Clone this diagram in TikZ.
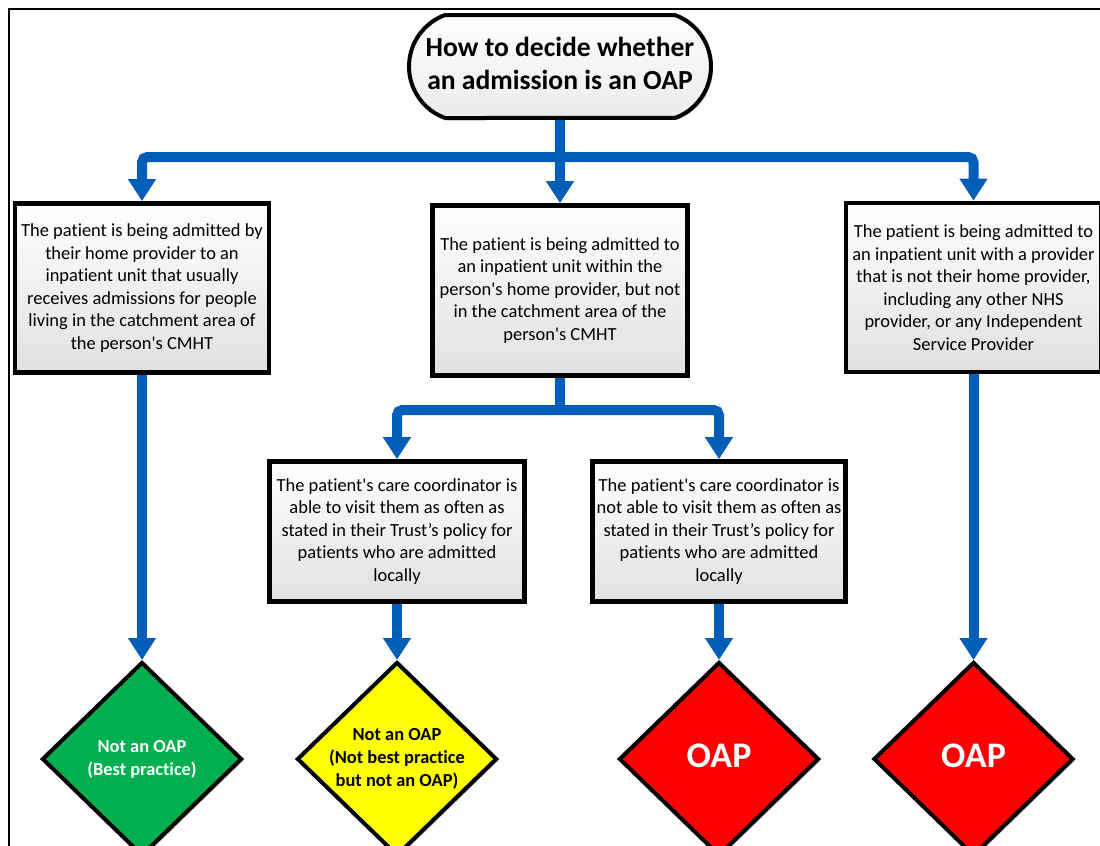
\documentclass[tikz,border=0pt]{standalone}
\usepackage{fontspec}
\setmainfont{Carlito}[Ligatures={TeXOff,NoCommon}]
\usetikzlibrary{arrows.meta,shapes.geometric,shapes.misc,shadows}
\definecolor{flowblue}{RGB}{0,94,184}
\definecolor{okgreen}{RGB}{0,176,80}
\definecolor{midyellow}{RGB}{255,255,0}
\definecolor{oapred}{RGB}{255,0,0}
\newcommand\zerow[1]{\makebox[0pt]{\begin{tabular}{@{}c@{}}#1\end{tabular}}}
\begin{document}
\begin{tikzpicture}[x=0.75pt,y=-0.75pt,
  flow/.style={draw=flowblue, line width=7.5pt, rounded corners=4pt, -{Triangle[width=20pt,length=16.5pt]}},
  trunk/.style={draw=flowblue, line width=7.5pt},
  softshadow/.style={drop shadow={shadow xshift=1.5pt, shadow yshift=-1.5pt, opacity=0.25, fill=black}},
  infobox/.style={draw=black, line width=3.5pt, top color=white, bottom color=black!12, align=center,
    text=black, inner sep=0pt, font=\fontsize{13.84pt}{16.9pt}\selectfont, softshadow},
  titlebox/.style={rounded rectangle, rounded rectangle arc length=140, draw=black, line width=3pt,
    top color=white, bottom color=black!8, minimum width=226.5pt, minimum height=77.25pt, inner sep=0pt,
    font=\bfseries\fontsize{20.7pt}{25pt}\selectfont, softshadow},
  outcome/.style={diamond, draw=black, line width=3pt, minimum width=150pt, minimum height=145.5pt,
    inner sep=0pt, softshadow, font=\bfseries\fontsize{13.8pt}{17.3pt}\selectfont},
  bigout/.style={outcome, fill=oapred, text=white, font=\bfseries\fontsize{27pt}{32pt}\selectfont}
]
\useasboundingbox (0,0) rectangle (1100,846);
\clip (0,0) rectangle (1100,846);
\fill[white] (0,0) rectangle (1100,846);
\draw[line width=1.5pt] (8.7,850) -- (8.7,9.3) -- (1105,9.3);

\node[titlebox] (title) at (560,66.5) {\zerow{How to decide whether\\an admission is an OAP}};

\node[infobox, minimum width=190.5pt, minimum height=126.75pt] (home) at (142,288)
  {The patient is being admitted by\\their home provider to an\\inpatient unit that usually\\receives admissions for people\\living in the catchment area of\\the person's CMHT};
\node[infobox, minimum width=191.25pt, minimum height=127.5pt] (within) at (560,290.5)
  {The patient is being admitted to\\an inpatient unit within the\\person's home provider, but not\\in the catchment area of the\\person's CMHT};
\node[infobox, minimum width=191.25pt, minimum height=126.75pt] (other) at (973.5,287.5)
  {The patient is being admitted to\\an inpatient unit with a provider\\that is not their home provider,\\including any other NHS\\provider, or any Independent\\Service Provider};
\node[infobox, minimum width=191.25pt, minimum height=105pt] (able) at (397,531.5)
  {The patient's care coordinator is\\able to visit them as often as\\stated in their Trust’s policy for\\patients who are admitted\\locally};
\node[infobox, minimum width=189.75pt, minimum height=105pt] (unable) at (719,531.5)
  {The patient's care coordinator is\\not able to visit them as often as\\stated in their Trust’s policy for\\patients who are admitted\\locally};

\node[outcome, fill=okgreen, text=white] (best) at (142,759) {\zerow{Not an OAP\\(Best practice)}};
\node[outcome, fill=midyellow, text=black] (notbest) at (397,759) {\zerow{Not an OAP\\(Not best practice\\but not an OAP)}};
\node[bigout] (oapa) at (719,759) {\zerow{OAP}};
\node[bigout] (oapb) at (973.5,759) {\zerow{OAP}};

\coordinate (split) at (560,157);
\coordinate (splitb) at (560,410);
\draw[flow] (title.south) -- (within.north);
\draw[flow] (split) -| (home.north);
\draw[flow] (split) -| (other.north);
\draw[trunk] (within.south) -- (splitb);
\draw[flow] (splitb) -| (able.north);
\draw[flow] (splitb) -| (unable.north);
\draw[flow] (home.south) -- (best.north);
\draw[flow] (able.south) -- (notbest.north);
\draw[flow] (unable.south) -- (oapa.north);
\draw[flow] (other.south) -- (oapb.north);
\end{tikzpicture}
\end{document}
